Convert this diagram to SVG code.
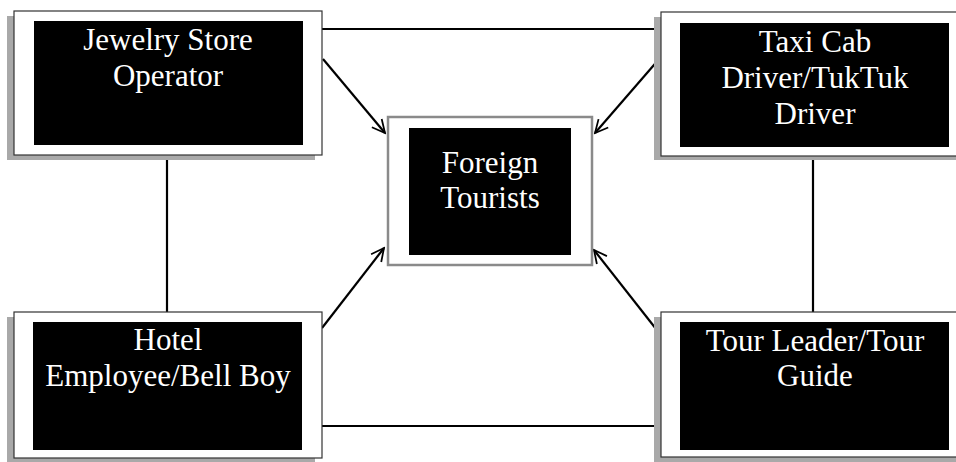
<svg xmlns="http://www.w3.org/2000/svg" width="956" height="462" viewBox="0 0 956 462">
<style>
.shadow{fill:#a9a9a9}
.frame{fill:#fff;stroke:#333;stroke-width:1.2}
.inner{fill:#000}
.lbl{font-family:"Liberation Serif","Times New Roman",serif;font-size:31px;fill:#fff;text-anchor:middle}
.conn{stroke:#000;stroke-width:2.2;fill:none}
</style>
<defs>
<marker id="arr" viewBox="0 0 20 20" refX="18" refY="10" markerWidth="16" markerHeight="16" markerUnits="userSpaceOnUse" orient="auto">
<path d="M2,2 L18,10 L2,18" fill="none" stroke="#000" stroke-width="2.2"/>
</marker>
</defs>
<rect width="956" height="462" fill="#fff"/>
<g id="connectors">
<line class="conn" x1="322" y1="29" x2="656" y2="29"/>
<line class="conn" x1="322" y1="426" x2="658" y2="426"/>
<line class="conn" x1="167" y1="156" x2="167" y2="312"/>
<line class="conn" x1="813" y1="156" x2="813" y2="312"/>
<line class="conn" x1="323" y1="59" x2="385" y2="133" marker-end="url(#arr)"/>
<line class="conn" x1="660" y1="58" x2="595" y2="133" marker-end="url(#arr)"/>
<line class="conn" x1="322" y1="328" x2="384" y2="248" marker-end="url(#arr)"/>
<line class="conn" x1="660" y1="334" x2="594" y2="250" marker-end="url(#arr)"/>
</g>
<g id="jewelry">
<rect class="shadow" x="7" y="16" width="308" height="144"/>
<rect class="frame" x="14" y="11" width="308" height="144"/>
<rect class="inner" x="34" y="21" width="269" height="124"/>
<text class="lbl" x="168" y="50">Jewelry Store</text>
<text class="lbl" x="168" y="86">Operator</text>
</g>
<g id="taxi">
<rect class="shadow" x="654" y="17" width="308" height="143"/>
<rect class="frame" x="661" y="12" width="308" height="144"/>
<rect class="inner" x="680" y="23" width="269" height="124"/>
<text class="lbl" x="815" y="52">Taxi Cab</text>
<text class="lbl" x="815" y="88">Driver/TukTuk</text>
<text class="lbl" x="815" y="124">Driver</text>
</g>
<g id="hotel">
<rect class="shadow" x="7" y="317" width="308" height="146"/>
<rect class="frame" x="14" y="312" width="308" height="146"/>
<rect class="inner" x="33" y="322" width="269" height="128"/>
<text class="lbl" x="168" y="350">Hotel</text>
<text class="lbl" x="168" y="386">Employee/Bell Boy</text>
</g>
<g id="tour">
<rect class="shadow" x="654" y="317" width="308" height="146"/>
<rect class="frame" x="661" y="312" width="308" height="145"/>
<rect class="inner" x="680" y="322" width="269" height="128"/>
<text class="lbl" x="815" y="351">Tour Leader/Tour</text>
<text class="lbl" x="815" y="386">Guide</text>
</g>
<g id="tourists">
<rect x="388" y="117" width="204" height="148" fill="#fff" stroke="#8a8a8a" stroke-width="2.5"/>
<rect class="inner" x="409" y="128" width="162" height="127"/>
<text class="lbl" x="490" y="173">Foreign</text>
<text class="lbl" x="490" y="208">Tourists</text>
</g>
</svg>
